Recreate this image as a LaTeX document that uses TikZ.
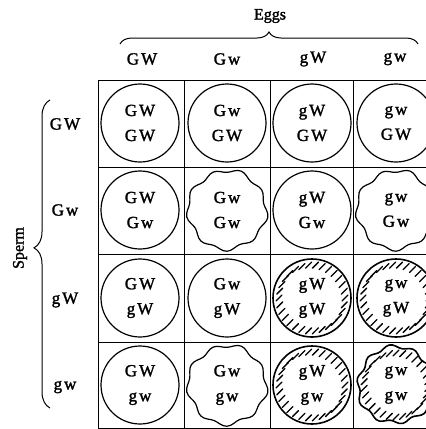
\documentclass[tikz,border=0pt]{standalone}
\usepackage{fontspec}
\setmainfont{Liberation Serif}[FakeBold=1.6]
\usetikzlibrary{decorations.pathreplacing}
\newcommand\aGW{G\kern2pt W}
\newcommand\aGw{G\kern2pt w}
\newcommand\agW{g\kern2pt W}
\newcommand\agw{g\kern2pt w}
\begin{document}
\begin{tikzpicture}[x=1pt,y=-1pt,
  gridline/.style={line width=1pt},
  ring/.style={line width=1.2pt},
  thickring/.style={line width=1.6pt},
  hatchline/.style={line width=1.3pt, line cap=round},
  celltext/.style={align=center, inner sep=0pt, font=\fontsize{17}{25}\selectfont},
  headtext/.style={inner sep=0pt, font=\fontsize{17}{20}\selectfont},
  titletext/.style={inner sep=0pt, font=\fontsize{16}{19}\selectfont},
  bracebar/.style={decorate, decoration={brace, amplitude=#1}, line width=1pt},
]
\useasboundingbox (0,0) rectangle (426,429);
\clip (0,0) rectangle (426,429);

% grid
\foreach \gx in {98,184,270,353} \draw[gridline] (\gx,80) -- (\gx,428);
\foreach \gy in {80,167,254,342,428} \draw[gridline] (98,\gy) -- (440,\gy);

% plain circles
\foreach \cx/\cy in {140/123,227/123,312/123,396/123,
                     140/210,312/210,
                     140/298,227/298,
                     140/385}
  \draw[ring] (\cx,\cy) circle[radius=39pt];

% wavy circles
\foreach \cx/\cy in {227/210,396/210,227/385}
  \draw[ring, shift={(\cx,\cy)}] plot[smooth cycle, variable=\t, domain=0:355, samples=72]
     (\t:{39+1.8*sin(9*\t)+0.7*sin(4*\t+40)});

% hatched circles
\foreach \cx/\cy in {312/298,396/298,312/385}{
  \begin{scope}[shift={(\cx,\cy)}]
    \foreach \a in {0,12,...,348}
      \draw[hatchline, shift={(\a:33)}] (-3,3) -- (3,-3);
    \draw[thickring] (0,0) circle[radius=39pt];
  \end{scope}
}

% wavy hatched circle
\begin{scope}[shift={(396,385)}]
  \foreach \a in {6,18,...,354}
    \draw[hatchline, shift={(\a:32)}] (-3,3) -- (3,-3);
  \draw[thickring] plot[smooth cycle, variable=\t, domain=0:355, samples=72]
     (\t:{38+1.8*sin(10*\t)+0.8*sin(3*\t+20)});
\end{scope}

% cell texts (egg above, sperm below)
\node[celltext] (c11) at (140,123) {\aGW\\\aGW};
\node[celltext] (c12) at (227,123) {\aGw\\\aGW};
\node[celltext] (c13) at (312,123) {\agW\\\aGW};
\node[celltext] (c14) at (396,123) {\agw\\\aGW};
\node[celltext] (c21) at (140,210) {\aGW\\\aGw};
\node[celltext] (c22) at (227,210) {\aGw\\\aGw};
\node[celltext] (c23) at (312,210) {\agW\\\aGw};
\node[celltext] (c24) at (396,210) {\agw\\\aGw};
\node[celltext] (c31) at (140,298) {\aGW\\\agW};
\node[celltext] (c32) at (227,298) {\aGw\\\agW};
\node[celltext] (c33) at (312,298) {\agW\\\agW};
\node[celltext] (c34) at (396,298) {\agw\\\agW};
\node[celltext] (c41) at (140,385) {\aGW\\\agw};
\node[celltext] (c42) at (227,385) {\aGw\\\agw};
\node[celltext] (c43) at (312,385) {\agW\\\agw};
\node[celltext] (c44) at (396,385) {\agw\\\agw};

% column headers (eggs)
\node[headtext] (e1) at (142,59) {\aGW};
\node[headtext] (e2) at (227,59) {\aGw};
\node[headtext] (e3) at (313,59) {\agW};
\node[headtext] (e4) at (395,59) {\agw};

% row headers (sperm)
\node[headtext] (s1) at (65,124) {\aGW};
\node[headtext] (s2) at (65,210) {\aGw};
\node[headtext] (s3) at (65,300) {\agW};
\node[headtext] (s4) at (65,387) {\agw};

% titles
\node[titletext] (eggs) at (270,16) {Eggs};
\node[titletext, rotate=90] (sperm) at (20,248) {Sperm};

% braces
\coordinate (eggL) at (120,44);
\coordinate (eggR) at (418,44);
\draw[bracebar=12pt] (eggL) -- (eggR);
\coordinate (spB) at (50,408);
\coordinate (spT) at (50,100);
\draw[bracebar=16pt, decoration={aspect=0.52}] (spB) -- (spT);
\end{tikzpicture}
\end{document}
